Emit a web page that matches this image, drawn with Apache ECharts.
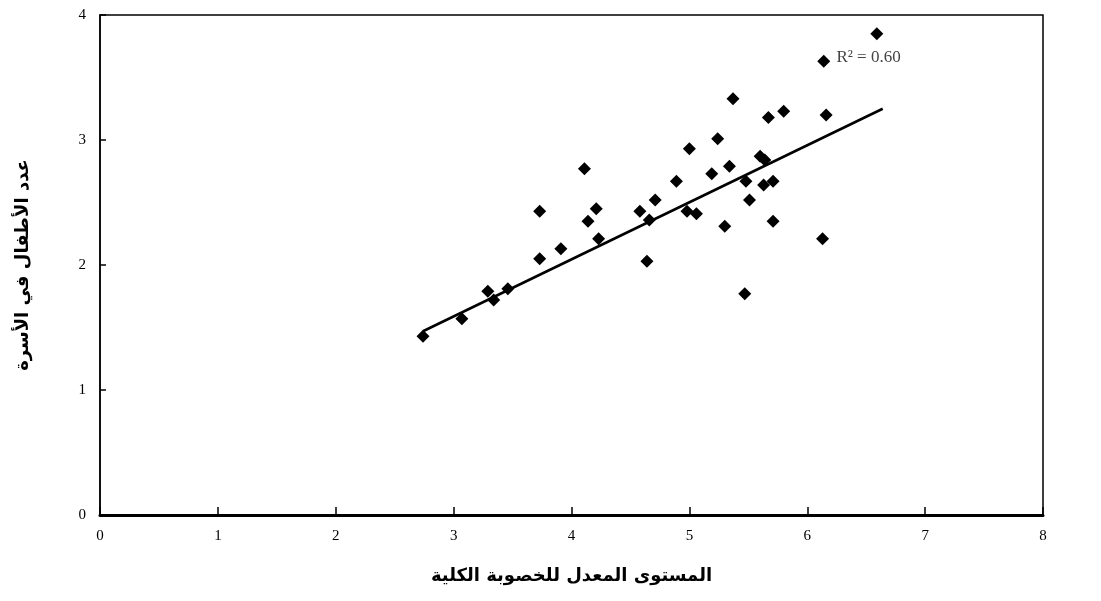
<!DOCTYPE html>
<html>
<head>
<meta charset="utf-8">
<script src="https://cdn.jsdelivr.net/npm/echarts@6/dist/echarts.min.js"></script>
<style>
    html, body { margin: 0; padding: 0; background: #fff; }
    #chart { width: 1101px; height: 601px; }
</style>
</head>
<body>
<div id="chart"></div>
<script>
// 数据点：总生育率 vs 家庭子女数
const fertility = [2.74, 3.07, 3.29, 3.34, 3.46, 3.73, 3.73, 3.91, 4.11, 4.14, 4.21, 4.23, 4.58, 4.66, 4.64, 4.71, 4.89, 4.98, 5.06, 5.00,
    5.19, 5.24, 5.30, 5.34, 5.37, 5.48, 5.51, 5.47, 5.60, 5.64, 5.63, 5.71, 5.71, 5.67, 5.80, 6.14, 6.16, 6.13, 6.59];
const children = [1.43, 1.57, 1.79, 1.72, 1.81, 2.05, 2.43, 2.13, 2.77, 2.35, 2.45, 2.21, 2.43, 2.36, 2.03, 2.52, 2.67, 2.43, 2.41, 2.93,
    2.73, 3.01, 2.31, 2.79, 3.33, 2.67, 2.52, 1.77, 2.87, 2.84, 2.64, 2.67, 2.35, 3.18, 3.23, 3.63, 3.20, 2.21, 3.85];
// 趋势线端点
const trendX = [2.74, 6.64];
const trendY = [1.47, 3.25];
const xTicks = [0, 1, 2, 3, 4, 5, 6, 7, 8];
const yTicks = [0, 1, 2, 3, 4];

const chart = echarts.init(document.getElementById('chart'));
const tickFont = { color: '#000', fontFamily: 'Liberation Serif', fontSize: 15 };

chart.setOption({
    animation: false,
    grid: { left: 100, right: 58, top: 15, bottom: 86, show: true, borderColor: '#000', borderWidth: 1.5 },
    xAxis: {
        type: 'value', min: 0, max: 8, interval: 1,
        axisLine: { lineStyle: { color: '#000', width: 3 } },
        axisTick: { inside: true, length: 8, lineStyle: { color: '#000', width: 1.5 } },
        axisLabel: Object.assign({ margin: 14, formatter: v => xTicks.includes(v) ? String(v) : '' }, tickFont),
        splitLine: { show: false },
        name: 'المستوى المعدل للخصوبة الكلية',
        nameLocation: 'middle', nameGap: 52,
        nameTextStyle: { fontFamily: 'DejaVu Sans', fontWeight: 'bold', fontSize: 18, color: '#000' }
    },
    yAxis: {
        type: 'value', min: 0, max: 4, interval: 1,
        axisLine: { show: true, lineStyle: { color: '#000', width: 1.5 } },
        axisTick: { inside: true, length: 6, lineStyle: { color: '#000', width: 1.5 } },
        axisLabel: Object.assign({ margin: 14, formatter: v => yTicks.includes(v) ? String(v) : '' }, tickFont),
        splitLine: { show: false },
        name: 'عدد الأطفال في الأسرة',
        nameLocation: 'middle', nameGap: 68, nameRotate: 90,
        nameTextStyle: { fontFamily: 'DejaVu Sans', fontWeight: 'bold', fontSize: 18, color: '#000' }
    },
    series: [
        {
            type: 'scatter',
            symbol: 'diamond',
            symbolSize: 13,
            itemStyle: { color: '#000', opacity: 1 },
            data: fertility.map((x, i) => [x, children[i]])
        },
        {
            type: 'line',
            symbol: 'none',
            lineStyle: { color: '#000', width: 2.5 },
            data: trendX.map((x, i) => [x, trendY[i]]),
            markPoint: {
                symbol: 'rect', symbolSize: 1,
                itemStyle: { color: 'transparent' },
                label: {
                    show: true, formatter: 'R² = 0.60',
                    fontFamily: 'Liberation Serif', fontSize: 17, color: '#444'
                },
                data: [{ coord: [6.52, 3.66] }]
            }
        }
    ]
});
</script>
</body>
</html>
